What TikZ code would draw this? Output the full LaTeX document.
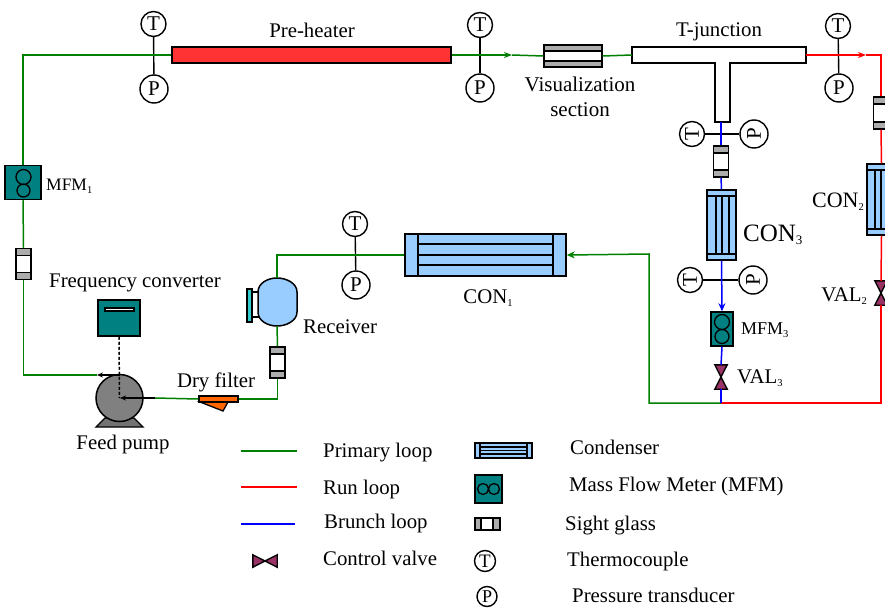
\documentclass[tikz,border=0pt]{standalone}
\usepackage{fontspec}
\setmainfont{Liberation Serif}
\usepackage{xcolor}
\usetikzlibrary{arrows.meta}
\definecolor{mfmteal}{RGB}{0,128,128}
\definecolor{conblue}{RGB}{153,204,255}
\definecolor{valvepurple}{RGB}{153,51,102}
\definecolor{heatred}{RGB}{255,51,51}
\definecolor{loopgreen}{RGB}{0,128,0}
\definecolor{flangeteal}{RGB}{51,204,204}
\definecolor{filterorange}{RGB}{255,102,0}
\tikzset{
lbl/.style={inner sep=0pt,font=\fontsize{20.8}{24}\selectfont,align=center},
gauge/.style={circle,draw,line width=1.4pt,fill=white,inner sep=0pt,minimum size=25pt,font=\fontsize{21}{21}\selectfont},
gaugep/.style={gauge,minimum size=28pt},
stem/.style={line width=1.4pt},
part/.style={draw,line width=1.5pt,inner sep=0pt},
primary/.style={loopgreen,line width=1.5pt},
runl/.style={red,line width=1.5pt},
brunch/.style={blue,line width=1.5pt},
sightv/.style={part,fill=white,minimum width=15pt,minimum height=31pt,
  path picture={
  \fill[gray!65](path picture bounding box.north west)rectangle([yshift=-7pt]path picture bounding box.north east);
  \fill[gray!65](path picture bounding box.south west)rectangle([yshift=7pt]path picture bounding box.south east);
  \draw[line width=1.3pt]([yshift=-7pt]path picture bounding box.north west)--([yshift=-7pt]path picture bounding box.north east);
  \draw[line width=1.3pt]([yshift=7pt]path picture bounding box.south west)--([yshift=7pt]path picture bounding box.south east);
  }},
sighth/.style={part,fill=white,minimum width=25pt,minimum height=12pt,
  path picture={
  \fill[gray!65](path picture bounding box.north west)rectangle([xshift=6pt]path picture bounding box.south west);
  \fill[gray!65](path picture bounding box.north east)rectangle([xshift=-7pt]path picture bounding box.south east);
  \draw[line width=1.2pt]([xshift=6pt]path picture bounding box.north west)--([xshift=6pt]path picture bounding box.south west);
  \draw[line width=1.2pt]([xshift=-7pt]path picture bounding box.north east)--([xshift=-7pt]path picture bounding box.south east);
  }},
visbox/.style={part,line width=1.1pt,fill=white,minimum width=58pt,minimum height=22pt,
  path picture={
  \fill[gray!65](path picture bounding box.north west)rectangle([yshift=-6pt]path picture bounding box.north east);
  \fill[gray!65](path picture bounding box.south west)rectangle([yshift=6pt]path picture bounding box.south east);
  }},
mfmbox/.style={part,fill=mfmteal},
convbox/.style={part,fill=conblue},
valvebox/.style={inner sep=0pt,minimum width=12pt,minimum height=24pt},
valvefill/.style={draw,fill=valvepurple,line width=1.4pt}
}
\newcommand{\subs}[2][10.5]{\raisebox{-3pt}{\fontsize{#1}{#1}\selectfont #2}}
\begin{document}
\begin{tikzpicture}[x=1pt,y=-1pt]
\clip(0,0)rectangle(885,607);
% gauges
\node[gauge](T1)at(153.5,24){T};
\node[gaugep](P1)at(154,89){P};
\node[gauge](T2)at(480,25){T};
\node[gaugep](P2)at(480,88){P};
\node[gauge](T3)at(838,26){T};
\node[gaugep](P3)at(839,88){P};
\node[gauge](T4)at(355,224){T};
\node[gaugep](P4)at(356,285){P};
\node[gauge,rotate=90](T5)at(692,134){T};
\node[gaugep,rotate=90](P5)at(754,134){P};
\node[gauge,rotate=90](T6)at(690,280){T};
\node[gaugep,rotate=90](P6)at(753,280){P};
\draw[stem](T1)--(P1);
\draw[stem](T2)--(P2);
\draw[stem](T3)--(P3);
\draw[stem](T4)--(P4);
\draw[stem](T5)--(P5);
\draw[stem](T6)--(P6);
% main parts
\node[part,fill=heatred,minimum width=279pt,minimum height=16pt](heater)at(311.5,55){};
\node[visbox](vis)at(573,56){};
\draw[line width=1.1pt](vis.west|-0,51)--(vis.east|-0,51)(vis.west|-0,61)--(vis.east|-0,61);
\node[mfmbox,minimum width=36pt,minimum height=34pt](MFM1)at(23,182.5){};
\draw[line width=1.3pt](23.5,177)circle(7.5pt)(23.5,190.5)circle(6.5pt);
\node[sightv](S1)at(23.5,264){};
\node[sightv](S2)at(277.5,362.5){};
\node[sightv](S3)at(721,161.5){};
\node[sightv,minimum height=32pt](S4)at(881,113){};
\node[part,fill=mfmteal,minimum width=42pt,minimum height=36pt](conv)at(119,318){};
\node[draw,line width=1.1pt,fill=white,minimum width=29pt,minimum height=3pt,inner sep=0pt](slot)at(119.5,309.5){};
% pump
\fill[gray!90!black,draw=black,line width=1.3pt](96,427)--(105,418)--(134,418)--(143,427)--cycle;
\node[circle,draw,line width=1.5pt,fill=gray,minimum size=47pt,inner sep=0pt](pump)at(119.5,398){};
% filter
\draw[line width=1.3pt,fill=filterorange](200,402)--(223,411)--(228,402)--cycle;
\node[part,fill=filterorange,minimum width=39pt,minimum height=6pt](filter)at(218.5,399){};
% receiver
\draw[line width=1.5pt,fill=conblue](258,292)..controls(258,283)and(268,278)..(277,278)..controls(286,278)and(297,283)..(297,292)--(297,312)..controls(297,321)and(286,326)..(277,326)..controls(268,326)and(258,321)..(258,312)--cycle;
\coordinate(recT)at(277,278);
\coordinate(recB)at(277,326);
\draw[line width=1.3pt](252,292)--(259,292)(252,317)--(259,317);
\node[part,line width=1.1pt,fill=flangeteal,minimum width=5pt,minimum height=33pt](flange)at(249.5,305.5){};
% condenser 1
\node[convbox,minimum width=161pt,minimum height=42pt](C1)at(485.5,255){};
\draw[line width=1.3pt](418,234)--(418,276)(553,234)--(553,276)(418,244)--(553,244)(418,255)--(553,255)(418,265)--(553,265);
% condenser 2 and 3
\node[convbox,minimum width=29pt,minimum height=70pt](C3)at(721.5,225){};
\draw[line width=1.3pt](707,196)--(736,196)(707,254)--(736,254)(716,196)--(716,254)(722,196)--(722,254)(729,196)--(729,254);
\node[convbox,minimum width=29pt,minimum height=71pt](C2)at(881.5,199.5){};
\draw[line width=1.3pt](867,170)--(896,170)(867,229)--(896,229)(875,170)--(875,229)(881,170)--(881,229);
% t-junction
\draw[line width=1.5pt,fill=white](632,47)--(806,47)--(806,63)--(730,63)--(730,122)--(715,122)--(715,63)--(632,63)--cycle;
\coordinate(TJw)at(632,55);
\coordinate(TJe)at(806,55);
\coordinate(TJs)at(721,122);
\node[mfmbox,minimum width=22pt,minimum height=34pt](MFM3)at(722,329){};
\draw[line width=1.3pt](722,322)circle(7.5pt)(722,336.5)circle(7pt);
\node[valvebox](V3)at(721,377){};
\draw[valvefill](V3.north west)--(V3.north east)--(V3.south west)--(V3.south east)--cycle;
\node[valvebox](V2)at(881,293){};
\draw[valvefill](V2.north west)--(V2.north east)--(V2.south west)--(V2.south east)--cycle;
% pipes
\coordinate(split)at(721,403);
\draw[primary](heater.west)-|(MFM1.north);
\draw[primary](MFM1.south)--(S1.north);
\draw[primary](S1.south)|-(97,375);
\draw[line width=1.3pt,-{Stealth[length=6pt,width=5pt]}](120,375)--(97,375);
\draw[line width=1.3pt,-{Stealth[length=6pt,width=5pt]}](155,398)--(120,398);
\draw[line width=1.5pt,dash pattern=on 3pt off 2pt](conv.south)--(pump.center);
\draw[primary](155,398)--(filter.west);
\draw[primary](filter.east)-|(S2.south);
\draw[primary](S2.north)--(recB);
\draw[primary](recT)|-(C1.west);
\draw[primary,-{Stealth[length=8pt,width=7pt]}](split)-|(649,254)--(C1.east);
\draw[primary,-{Stealth[length=8pt,width=6pt]}](heater.east)--(512,55);
\draw[primary](512,55)--(vis.west);
\draw[primary](vis.east)--(TJw);
\draw[runl,-{Stealth[length=8pt,width=6pt]}](TJe)--(866,55);
\draw[runl](866,55)-|(S4.north);
\draw[runl](S4.south)--(C2.north);
\draw[runl](C2.south)--(V2.north);
\draw[runl](V2.south)|-(split);
\draw[brunch](TJs)--(S3.north);
\draw[brunch](S3.south)--(C3.north);
\draw[brunch,-{Stealth[length=8pt,width=7pt]}](C3.south)--(MFM3.north);
\draw[brunch](MFM3.south)--(V3.north);
\draw[brunch](V3.south)--(split);
% labels
\node[lbl](lheater)at(312,30){Pre-heater};
\node[lbl,font=\fontsize{21}{25}\selectfont](lvis)at(580,97){Visualization\\section};
\node[lbl](ltj)at(719,32){T-junction};
\node[lbl,font=\fontsize{17.5}{20}\selectfont,anchor=west](lm1)at(46,186){MFM\subs{1}};
\node[lbl,font=\fontsize{22}{24}\selectfont,anchor=east](lc2)at(864,202){CON\subs{2}};
\node[lbl,font=\fontsize{25}{28}\selectfont,anchor=west](lc3)at(743,235){CON\subs[13]{3}};
\node[lbl](lc1)at(488,298){CON\subs{1}};
\node[lbl,anchor=west](lrec)at(303,327){Receiver};
\node[lbl](lconv)at(135,283){Frequency converter};
\node[lbl](lfil)at(216,382){Dry filter};
\node[lbl](lpump)at(123,444){Feed pump};
\node[lbl,font=\fontsize{18}{20}\selectfont,anchor=west](lm3)at(741,330){MFM\subs{3}};
\node[lbl,anchor=west](lv3)at(737,378){VAL\subs{3}};
\node[lbl,anchor=east](lv2)at(867,296){VAL\subs{2}};
% legend
\coordinate(g1)at(241,451);\coordinate(g2)at(297,451);
\coordinate(r1)at(241,487);\coordinate(r2)at(297,487);
\coordinate(b1)at(241,524);\coordinate(b2)at(295,524);
\draw[primary](g1)--(g2);
\draw[runl](r1)--(r2);
\draw[brunch](b1)--(b2);
\node[valvebox,rotate=90](V0)at(265,561){};
\draw[valvefill](V0.north west)--(V0.north east)--(V0.south west)--(V0.south east)--cycle;
\node[lbl,anchor=west](l1)at(323,453){Primary loop};
\node[lbl,anchor=west](l2)at(323,489){Run loop};
\node[lbl,anchor=west](l3)at(324,523){Brunch loop};
\node[lbl,anchor=west](l4)at(323,558){Control valve};
\node[convbox,minimum width=57pt,minimum height=15pt](C0)at(503.5,450.5){};
\draw[line width=1.1pt](480,443)--(480,458)(527,443)--(527,458)(480,447)--(527,447)(480,450.5)--(527,450.5)(480,454)--(527,454);
\node[mfmbox,minimum width=27pt,minimum height=28pt](M0)at(488.5,489){};
\draw[line width=1.3pt](483,489)circle(5.5pt)(494,489)circle(5.5pt);
\node[sighth](S0)at(487.5,524){};
\node[gauge,minimum size=21pt,font=\fontsize{19}{19}\selectfont](T0)at(485,561){T};
\node[gauge,minimum size=20pt,font=\fontsize{18}{18}\selectfont](P0)at(487,596.5){P};
\node[lbl,anchor=west](l5)at(570,447){Condenser};
\node[lbl,anchor=west](l6)at(569,486){Mass Flow Meter (MFM)};
\node[lbl,anchor=west](l7)at(565,526){Sight glass};
\node[lbl,anchor=west](l8)at(567,561){Thermocouple};
\node[lbl,anchor=west](l9)at(572,595.5){Pressure transducer};
\end{tikzpicture}
\end{document}
